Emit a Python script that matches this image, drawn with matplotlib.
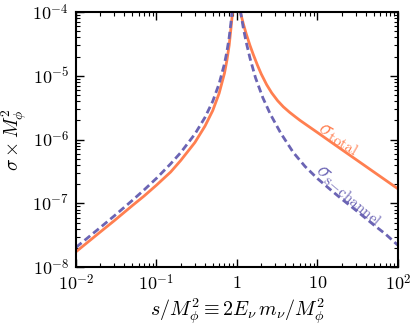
import numpy as np
import matplotlib
matplotlib.use("Agg")
import matplotlib.pyplot as plt
from matplotlib.ticker import FixedLocator, FixedFormatter, LogLocator, NullFormatter

plt.rcParams['mathtext.fontset'] = 'cm'
plt.rcParams['font.family'] = 'serif'
plt.rcParams['font.serif'] = ['DejaVu Serif']

# s / M_phi^2 sample points and cross sections
x_s = [0.01, 0.02, 0.03, 0.05, 0.07, 0.1, 0.15, 0.2, 0.3, 0.4, 0.5, 0.6, 0.7, 0.75,
       0.8, 0.85, 0.88, 0.92, 1.0, 1.05, 1.08, 1.11, 1.2, 1.3, 1.45, 1.7, 2.1, 2.6,
       3.5, 5, 7, 10, 15, 20, 30, 50, 70, 100]
# s-channel (dashed purple)
y_s = [2.04e-8, 4.17e-8, 6.38e-8, 1.11e-7, 1.62e-7, 2.47e-7, 4.17e-7, 6.25e-7,
       1.22e-6, 2.22e-6, 3.98e-6, 7.5e-6, 1.55e-5, 2.4e-5, 3.98e-5, 7.6e-5, 1.23e-4,
       2.5e-4, 1e-3, 3.2e-4, 1.6e-4, 1.0e-4, 5.6e-5, 3.4e-5, 1.9e-5, 9.3e-6, 4.5e-6,
       2.5e-6, 1.26e-6, 6.3e-7, 3.8e-7, 2.45e-7, 1.58e-7, 1.17e-7, 7.8e-8, 4.6e-8,
       3.3e-8, 2.2e-8]

x_t = [0.01, 0.02, 0.03, 0.05, 0.07, 0.1, 0.15, 0.2, 0.3, 0.4, 0.5, 0.6, 0.7, 0.75,
       0.8, 0.85, 0.88, 0.92, 1.0, 1.05, 1.1, 1.2, 1.3, 1.45, 1.6, 1.8, 2.0, 2.34,
       2.7, 3.2, 3.76, 4.5, 5.3, 6.07, 7.5, 10, 15, 20, 28, 40, 60, 100]
# total (solid orange)
y_t = [1.74e-8, 3.55e-8, 5.37e-8, 9.2e-8, 1.30e-7, 1.93e-7, 3.1e-7, 4.7e-7, 9.0e-7,
       1.62e-6, 2.85e-6, 5.3e-6, 1.1e-5, 1.75e-5, 3.0e-5, 6.2e-5, 1.0e-4, 2.2e-4,
       1e-3, 1.38e-4, 1.0e-4, 6.53e-5, 4.59e-5, 3.0e-5, 2.13e-5, 1.46e-5, 1.07e-5,
       7.24e-6, 5.4e-6, 4.07e-6, 3.27e-6, 2.68e-6, 2.28e-6, 2.0e-6, 1.66e-6, 1.29e-6,
       9.0e-7, 6.98e-7, 5.19e-7, 3.79e-7, 2.65e-7, 1.69e-7]

xticks = [1e-2, 1e-1, 1, 10, 1e2]
xticklabels = [r'$10^{-2}$', r'$10^{-1}$', r'$1$', r'$10$', r'$10^{2}$']
yticks = [1e-8, 1e-7, 1e-6, 1e-5, 1e-4]
yticklabels = [r'$10^{-8}$', r'$10^{-7}$', r'$10^{-6}$', r'$10^{-5}$', r'$10^{-4}$']

c_tot = '#FF7F50'
c_s = '#6B64B4'

fig = plt.figure(figsize=(4.15, 3.25), dpi=100)
ax = fig.add_axes([0.183, 0.178, 0.776, 0.785])

ax.plot(x_t, y_t, color=c_tot, lw=2.0)
ax.plot(x_s, y_s, color=c_s, lw=2.0, dashes=(2.6, 1.4))

ax.set_xscale('log')
ax.set_yscale('log')
ax.set_xlim(1e-2, 1e2)
ax.set_ylim(1e-8, 1e-4)

ax.xaxis.set_major_locator(FixedLocator(xticks))
ax.xaxis.set_major_formatter(FixedFormatter(xticklabels))
ax.yaxis.set_major_locator(FixedLocator(yticks))
ax.yaxis.set_major_formatter(FixedFormatter(yticklabels))
ax.xaxis.set_minor_locator(LogLocator(base=10, subs=np.arange(2, 10), numticks=20))
ax.yaxis.set_minor_locator(LogLocator(base=10, subs=np.arange(2, 10), numticks=20))
ax.xaxis.set_minor_formatter(NullFormatter())
ax.yaxis.set_minor_formatter(NullFormatter())

ax.tick_params(which='both', direction='in', top=True, right=True, labelsize=13)
ax.tick_params(which='major', length=6, width=1.0, pad=5)
ax.tick_params(which='minor', length=3, width=0.8)
for sp in ax.spines.values():
    sp.set_linewidth(1.5)

ax.set_xlabel(r'$s/M_\phi^2 \equiv 2E_\nu\, m_\nu/M_\phi^2$', fontsize=14.5, labelpad=1)
ax.set_ylabel(r'$\sigma \times M_\phi^2$', fontsize=14)
ax.yaxis.set_label_coords(-0.145, 0.5)

ax.text(0.817, 0.506, r'$\sigma_{\rm total}$', transform=ax.transAxes, color=c_tot,
        fontsize=15.5, rotation=-30, ha='center', va='center')
ax.text(0.851, 0.286, r'$\sigma_{\rm s\!-\!channel}$', transform=ax.transAxes, color=c_s,
        fontsize=15.5, rotation=-40, ha='center', va='center')

fig.savefig('out.png', dpi=100)
